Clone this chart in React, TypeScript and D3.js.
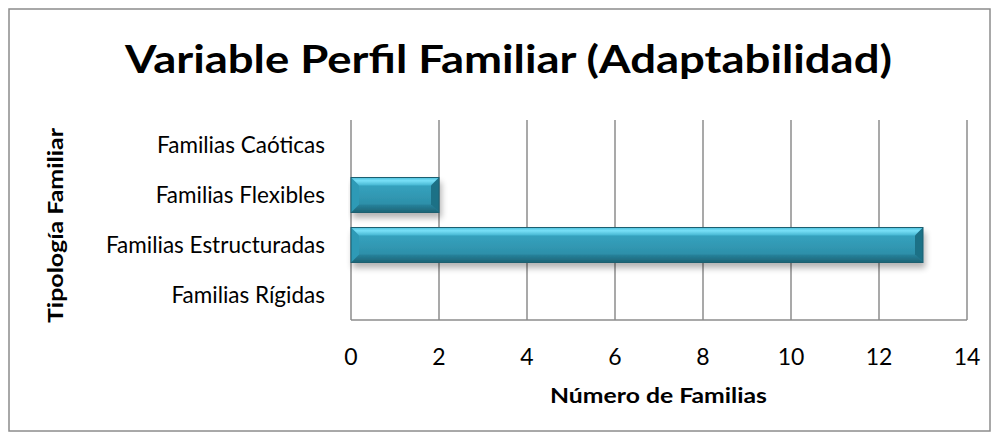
import React from "react";
import * as d3 from "d3";

const categories = ["Familias Caóticas", "Familias Flexibles", "Familias Estructuradas", "Familias Rígidas"];
const values = [0, 2, 13, 0];
const xTicks = [0, 2, 4, 6, 8, 10, 12, 14];
const title = "Variable Perfil Familiar (Adaptabilidad)";
const xTitle = "Número de Familias";
const yTitle = "Tipología Familiar";

const W = 999, H = 440;
const plot = { left: 351, right: 967, top: 120, bottom: 320 };
const FONT = "Lato, 'Open Sans', sans-serif";

export default function App() {
  const x = d3.scaleLinear().domain([0, 14]).range([plot.left, plot.right]);
  const y = d3.scaleBand<string>().domain(categories).range([plot.top, plot.bottom]).paddingInner(0.3).paddingOuter(0.15);
  const bh = y.bandwidth();
  const bev = 8;
  return (
    <svg width={W} height={H} style={{ position: "absolute", left: 0, top: 0 }}>
      <defs>
        <linearGradient id="barG" x1="0" y1="0" x2="0" y2="1">
          <stop offset="0" stopColor="#3aa9c6" />
          <stop offset="0.5" stopColor="#3199b4" />
          <stop offset="1" stopColor="#2a879f" />
        </linearGradient>
        <linearGradient id="topG" x1="0" y1="0" x2="0" y2="1">
          <stop offset="0" stopColor="#4cbfdc" />
          <stop offset="0.4" stopColor="#78e0f7" />
          <stop offset="1" stopColor="#45b6d2" />
        </linearGradient>
        <linearGradient id="botG" x1="0" y1="0" x2="0" y2="1">
          <stop offset="0" stopColor="#26809a" />
          <stop offset="1" stopColor="#185a6a" />
        </linearGradient>
        <filter id="sh" x="-5%" y="-20%" width="115%" height="170%">
          <feGaussianBlur in="SourceAlpha" stdDeviation="3" />
          <feOffset dx="2" dy="5" result="b" />
          <feComponentTransfer><feFuncA type="linear" slope="0.3" /></feComponentTransfer>
          <feMerge><feMergeNode /><feMergeNode in="SourceGraphic" /></feMerge>
        </filter>
      </defs>
      <rect x={9} y={9} width={981} height={422} fill="#fff" stroke="#8c8c8c" strokeWidth={1.5} />
      <text x={508.5} y={73} textAnchor="middle" fontFamily={FONT} fontWeight="bold" fontSize={39} fill="#000" textLength={767} lengthAdjust="spacingAndGlyphs">{title}</text>
      {xTicks.map(t => (
        <line key={t} x1={x(t)} x2={x(t)} y1={plot.top} y2={plot.bottom} stroke="#8c8c8c" strokeWidth={1.5} />
      ))}
      <line x1={plot.left} x2={plot.right} y1={plot.bottom} y2={plot.bottom} stroke="#8c8c8c" strokeWidth={1.5} />
      {categories.map((c, i) => {
        const v = values[i];
        if (!v) return null;
        const x0 = x(0), x1 = x(v), y0 = y(c)!, y1 = y0 + bh;
        return (
          <g key={c} filter="url(#sh)">
            <rect x={x0} y={y0} width={x1 - x0} height={bh} fill="url(#barG)" />
            <polygon points={`${x0},${y0} ${x1},${y0} ${x1 - bev},${y0 + bev} ${x0 + bev},${y0 + bev}`} fill="url(#topG)" />
            <polygon points={`${x0},${y1} ${x1},${y1} ${x1 - bev},${y1 - bev} ${x0 + bev},${y1 - bev}`} fill="url(#botG)" opacity={0.8} />
            <polygon points={`${x0},${y0} ${x0 + bev},${y0 + bev} ${x0 + bev},${y1 - bev} ${x0},${y1}`} fill="#2f9ab6" />
            <polygon points={`${x1},${y0} ${x1 - bev},${y0 + bev} ${x1 - bev},${y1 - bev} ${x1},${y1}`} fill="#1f7186" />
            <rect x={x0} y={y0} width={x1 - x0} height={bh} fill="none" stroke="#1b5f70" strokeWidth={1} />
          </g>
        );
      })}
      {categories.map(c => (
        <text key={c} x={325} y={y(c)! + bh / 2 + 8} textAnchor="end" fontFamily={FONT} fontSize={22.5} fill="#000">{c}</text>
      ))}
      {xTicks.map(t => (
        <text key={t} x={x(t)} y={365} textAnchor="middle" fontFamily={FONT} fontSize={23} fill="#000">{t}</text>
      ))}
      <text x={658.5} y={403} textAnchor="middle" fontFamily={FONT} fontWeight="bold" fontSize={21.5} fill="#000" textLength={217} lengthAdjust="spacingAndGlyphs">{xTitle}</text>
      <text transform={`translate(63,225.5) rotate(-90)`} textAnchor="middle" fontFamily={FONT} fontWeight="bold" fontSize={21.5} fill="#000" textLength={195} lengthAdjust="spacingAndGlyphs">{yTitle}</text>
    </svg>
  );
}
